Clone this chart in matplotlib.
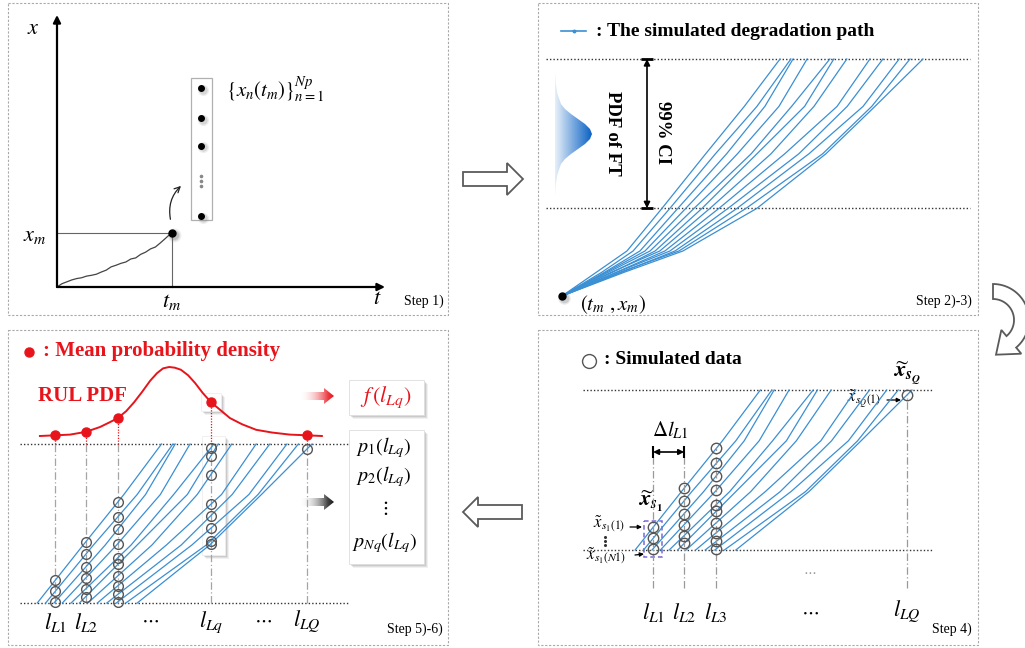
import numpy as np
import matplotlib
matplotlib.use("Agg")
import matplotlib.pyplot as plt
from matplotlib.patches import Polygon, Rectangle, FancyArrowPatch

plt.rcParams["font.family"] = ["Liberation Serif", "DejaVu Serif"]
plt.rcParams["mathtext.fontset"] = "stix"

# ---------------------------------------------------------------- data
# Step 1: measured degradation up to the current time t_m
OBS_T = [0, 0.15, 0.3, 0.45, 0.6, 0.75, 0.9, 1.05, 1.2, 1.35, 1.5, 1.65,
         1.8, 1.95, 2.1, 2.25, 2.4, 2.55, 2.7, 2.85, 3.0, 3.15, 3.3, 3.5]
OBS_X = [0, 0.12, 0.19, 0.26, 0.31, 0.34, 0.40, 0.43, 0.47, 0.55, 0.62, 0.74,
         0.80, 0.87, 0.92, 1.03, 1.07, 1.20, 1.28, 1.40, 1.47, 1.62, 1.78, 2.0]
T_M, X_M = 3.5, 2.0
PARTICLE_T = 4.4
PARTICLES = [7.3, 6.2, 5.2, 2.6]

# Steps 2)-6): simulated degradation paths (normalised time at each level)
PATH_LEVELS = [0.0, 0.10, 0.19, 0.37, 0.60, 0.80, 1.0]
PATHS = [
    [0, 0.095, 0.180, 0.277, 0.398, 0.505, 0.604],
    [0, 0.110, 0.197, 0.299, 0.425, 0.540, 0.634],
    [0, 0.118, 0.216, 0.321, 0.456, 0.562, 0.640],
    [0, 0.122, 0.230, 0.343, 0.486, 0.601, 0.679],
    [0, 0.128, 0.244, 0.366, 0.524, 0.636, 0.742],
    [0, 0.140, 0.258, 0.388, 0.540, 0.672, 0.753],
    [0, 0.136, 0.271, 0.410, 0.579, 0.698, 0.789],
    [0, 0.150, 0.285, 0.435, 0.617, 0.762, 0.853],
    [0, 0.152, 0.299, 0.460, 0.656, 0.790, 0.889],
    [0, 0.165, 0.313, 0.485, 0.684, 0.834, 0.934],
    [0, 0.160, 0.324, 0.510, 0.722, 0.858, 0.964],
    [0, 0.172, 0.335, 0.540, 0.731, 0.867, 1.000],
]
CI_LOW, FAIL = 0.37, 1.0

# RUL grid points and the mean probability density curve
L_GRID = [0.324, 0.405, 0.489, 0.734, 0.987]
RUL_T = [0.284, 0.324, 0.363, 0.405, 0.442, 0.468, 0.489, 0.511, 0.532, 0.553,
         0.574, 0.592, 0.608, 0.624, 0.639, 0.655, 0.674, 0.692, 0.713, 0.734,
         0.758, 0.784, 0.816, 0.853, 0.895, 0.942, 0.987, 1.026]
RUL_PDF = [0.0, 0.01, 0.02, 0.06, 0.13, 0.20, 0.26, 0.36, 0.49, 0.64,
           0.80, 0.91, 0.98, 1.00, 0.99, 0.96, 0.88, 0.77, 0.62, 0.49,
           0.38, 0.26, 0.17, 0.09, 0.05, 0.02, 0.01, 0.0]

# ---------------------------------------------------------------- style
BLUE = "#3b8fd3"
RED = "#e8141b"
GREY = "#555555"
W, H = 1025, 648

fig = plt.figure(figsize=(W / 100, H / 100), dpi=100)
canvas = fig.add_axes([0, 0, 1, 1])
canvas.set_autoscale_on(False)
canvas.set_xlim(0, W)
canvas.set_ylim(H, 0)
canvas.axis("off")


def data_axes(box, x0, xs, y0, ys):
    """Transparent axes over pixel box (l, t, r, b): x -> x0 + xs*x, y -> y0 - ys*y."""
    l, t, r, b = box
    ax = fig.add_axes([l / W, 1 - b / H, (r - l) / W, (b - t) / H])
    ax.set_xlim((l - x0) / xs, (r - x0) / xs)
    ax.set_ylim((y0 - b) / ys, (y0 - t) / ys)
    ax.set_autoscale_on(False)
    ax.axis("off")
    return ax


def shadow_box(l, t, r, b, edge="#dddddd"):
    for off, a in [(4, 0.10), (3, 0.14), (2, 0.2)]:
        canvas.add_patch(Rectangle((l + off, t + off), r - l, b - t, fc="#777777",
                                   ec="none", alpha=a))
    canvas.add_patch(Rectangle((l, t), r - l, b - t, fc="white", ec=edge, lw=0.6))


def gradient_fill(pts, color, x0, x1, y0, y1, light=0.0, fade_alpha=True):
    poly = Polygon(pts, closed=True, fc="none", ec="none")
    canvas.add_patch(poly)
    rgb = np.array(matplotlib.colors.to_rgb(color))
    ramp = np.linspace(light, 1, 64)
    img = np.ones((2, 64, 4))
    img[..., :3] = 1 - (1 - rgb) * ramp[None, :, None]
    img[..., 3] = np.clip(ramp * 1.2, 0, 1) if fade_alpha else 1.0
    im = canvas.imshow(img, extent=(x0, x1, y1, y0), aspect="auto", zorder=3,
                       interpolation="bilinear")
    im.set_clip_path(poly)


def gradient_arrow(x0, x1, yc, color):
    hl, sh, hh = 10, 4, 8
    pts = [(x0, yc - sh), (x1 - hl, yc - sh), (x1 - hl, yc - hh), (x1, yc),
           (x1 - hl, yc + hh), (x1 - hl, yc + sh), (x0, yc + sh)]
    gradient_fill(pts, color, x0, x1, yc - hh, yc + hh, light=0.05)


def hollow_arrow(pts):
    canvas.add_patch(Polygon(pts, closed=True, fc="white", ec="#5a5a5a", lw=1.3,
                             joinstyle="miter"))


def clipped(ts):
    lv = [CI_LOW] + [v for v in PATH_LEVELS if CI_LOW < v < FAIL] + [FAIL]
    return np.interp(lv, PATH_LEVELS, ts), lv


def crossings(l):
    out = []
    for ts in PATHS:
        if np.interp(CI_LOW, PATH_LEVELS, ts) <= l <= ts[-1]:
            out.append(np.interp(l, ts, PATH_LEVELS))
    return out


# ---------------------------------------------------------------- panel frames
P1 = (8, 3, 448, 315)
P2 = (538, 3, 978, 315)
P3 = (538, 330, 978, 645)
P4 = (8, 330, 448, 645)
for l, t, r, b in (P1, P2, P3, P4):
    canvas.add_patch(Rectangle((l, t), r - l, b - t, fill=False, ec="#a9a9a9",
                               lw=0.8, ls=(0, (2, 1.5))))

# flow arrows between steps
hollow_arrow([(463, 172), (507, 172), (507, 163), (523, 179), (507, 195),
              (507, 186), (463, 186)])
hollow_arrow([(463, 512), (478, 497), (478, 505), (522, 505), (522, 519),
              (478, 519), (478, 527)])
cx, cy, ro, ri = 993, 320, 36, 21
th = np.radians(np.linspace(90, -50, 50))
te = th[-1]
outer = [(cx + ro * np.cos(a), cy - ro * np.sin(a)) for a in th]
inner = [(cx + ri * np.cos(a), cy - ri * np.sin(a)) for a in th[::-1]]
rm = (ro + ri) / 2
mid = np.array([cx + rm * np.cos(te), cy - rm * np.sin(te)])
dirv = np.array([np.sin(te), np.cos(te)])
tip = mid + dirv * 20
head = [(cx + (ro + 8) * np.cos(te), cy - (ro + 8) * np.sin(te)), tuple(tip),
        (cx + (ri - 8) * np.cos(te), cy - (ri - 8) * np.sin(te))]
hollow_arrow(outer + head + inner)

# ---------------------------------------------------------------- Step 1)
ax1 = data_axes(P1, 57, 32.8, 287, 27.2)
akw = dict(arrowstyle="-|>", lw=1.6, color="k", mutation_scale=11, shrinkA=0, shrinkB=0)
ax1.annotate("", xy=(10, 0), xytext=(0, 0), arrowprops=akw)
ax1.annotate("", xy=(0, 10), xytext=(0, 0), arrowprops=akw)
ax1.plot([0, T_M], [X_M, X_M], color="#666", lw=0.8)
ax1.plot([T_M, T_M], [0, X_M], color="#666", lw=0.8)
ax1.plot(OBS_T, OBS_X, color="#444", lw=0.9)
for s, a in [(10, 0.12), (8, 0.18), (6.5, 0.25)]:
    ax1.plot(T_M + 0.06, X_M - 0.07, "o", ms=s, color="#777", alpha=a, mec="none")
ax1.plot(T_M, X_M, "o", ms=5, color="k")

canvas.add_patch(Rectangle((191, 78), 21, 142, fill=False, ec="#b0b0b0", lw=0.9))
for s, a in [(8, 0.12), (6, 0.2)]:
    ax1.plot([PARTICLE_T + 0.05] * len(PARTICLES), np.array(PARTICLES) - 0.06, "o",
             ms=s, color="#777", alpha=a, mec="none", ls="none")
ax1.plot([PARTICLE_T] * len(PARTICLES), PARTICLES, "o", ms=4, color="k", ls="none")
canvas.plot([200.5] * 3, [176, 181, 186], "o", ms=1.6, color="#888", ls="none")
canvas.add_patch(FancyArrowPatch((171, 222), (183, 184), arrowstyle="->",
                                 connectionstyle="arc3,rad=-0.3", lw=0.9,
                                 mutation_scale=10, color="#222"))

canvas.text(33, 30, r"$x$", fontsize=16, ha="center", va="center")
canvas.text(35, 236, r"$x_m$", fontsize=16, ha="center", va="center")
canvas.text(172, 302, r"$t_m$", fontsize=16, ha="center", va="center")
canvas.text(377, 300, r"$t$", fontsize=16, ha="center", va="center")
canvas.text(226, 90, r"$\{x_n(t_m)\}_{n=1}^{Np}$", fontsize=15, ha="left", va="center")
canvas.text(444, 301, "Step 1)", fontsize=10, ha="right", va="center")

# ---------------------------------------------------------------- Step 2)-3)
ax2 = data_axes(P2, 562, 361, 296, 237)
ax2.hlines([CI_LOW, FAIL], (546 - 562) / 361, (970 - 562) / 361, colors="#333",
           linestyles=(0, (1, 1.5)), lw=1.0)
for ts in PATHS:
    ax2.plot(ts, PATH_LEVELS, color=BLUE, lw=0.9)
for s, a in [(9, 0.15), (7, 0.25)]:
    ax2.plot(0.006, -0.008, "o", ms=s, color="#777", alpha=a, mec="none")
ax2.plot(0, 0, "o", ms=5, color="k")
x_ci = (647 - 562) / 361
ax2.annotate("", xy=(x_ci, FAIL), xytext=(x_ci, CI_LOW),
             arrowprops=dict(arrowstyle="<|-|>", color="k", lw=1.2, shrinkA=0,
                             shrinkB=0, mutation_scale=9))
ax2.hlines([CI_LOW, FAIL], x_ci - 0.016, x_ci + 0.016, colors="k", lw=2)

# distribution of the failure time
bell_dy = [-62, -50, -40, -30, -25, -20, -15, -10, -5, 0, 5, 10, 15, 20, 25, 30, 40, 50, 62]
bell_w = [0, 0.8, 2.5, 6, 10, 16, 23, 30, 35, 37, 35, 30, 23, 16, 10, 6, 2.5, 0.8, 0]
bx, by = 555, 134
bell = [(bx + w, by + d) for d, w in zip(bell_dy, bell_w)]
gradient_fill(bell, "#0b62c4", bx - 2, bx + 37, by - 62, by + 62, light=0.05,
              fade_alpha=False)

canvas.text(663, 133, "99% CI", fontsize=13.5, fontweight="bold", rotation=270,
            ha="center", va="center", rotation_mode="anchor")
canvas.text(613, 133, "PDF of FT", fontsize=13.5, fontweight="bold", rotation=270,
            ha="center", va="center", rotation_mode="anchor")
canvas.plot([561, 586], [31, 31], color=BLUE, lw=1.2)
canvas.plot(573.5, 31, "o", ms=1.8, color=BLUE)
canvas.text(596, 31, ": The simulated degradation path", fontsize=14,
            fontweight="bold", ha="left", va="center")
canvas.text(613, 305, r"$(t_m\ , x_m)$", fontsize=15, ha="center", va="center")
canvas.text(972, 301, "Step 2)-3)", fontsize=10, ha="right", va="center")

# ---------------------------------------------------------------- Step 4)
ax3 = data_axes(P3, 529, 383, 644, 254)
ax3.hlines([CI_LOW, FAIL], (583 - 529) / 383, (932 - 529) / 383, colors="#333",
           linestyles=(0, (1, 1.5)), lw=1.0)
for ts in PATHS:
    tt, lv = clipped(ts)
    ax3.plot(tt, lv, color=BLUE, lw=0.9)
lvl_bottom3 = (644 - 588) / 254
lvl_delta = (644 - 452) / 254
for i in (0, 1, 2, 4):
    l = L_GRID[i]
    hits = crossings(l)
    top = lvl_delta if i < 2 else max(hits)
    ax3.plot([l, l], [lvl_bottom3, top], color="#9a9a9a", lw=0.9, ls=(0, (6, 2, 1, 2)))
    ax3.plot([l] * len(hits), hits, "o", mfc="none", mec=GREY, mew=1, ms=7.5, ls="none")
ax3.annotate("", xy=(L_GRID[1], lvl_delta), xytext=(L_GRID[0], lvl_delta),
             arrowprops=dict(arrowstyle="<|-|>", color="k", lw=1.2, shrinkA=0,
                             shrinkB=0, mutation_scale=8))
ax3.vlines(L_GRID[:2], lvl_delta - 0.025, lvl_delta + 0.025, colors="k", lw=1.5)

canvas.add_patch(Rectangle((644, 521), 18, 36, fill=False, ec="#7b68d6", lw=1.1,
                           ls=(0, (3, 2))))
canvas.plot(589, 361, "o", ms=10, mfc="none", mec=GREY, mew=1)
canvas.text(604, 360, ": Simulated data", fontsize=14, fontweight="bold", ha="left",
            va="center")
canvas.text(670, 430, r"$\Delta l_{L1}$", fontsize=15, ha="center", va="center")
canvas.text(651, 501, r"$\widetilde{\mathbfit{x}}_{\mathbfit{s}_{\mathbf{1}}}$",
            fontsize=16, ha="center", va="center")
canvas.text(609, 524, r"$\tilde{x}_{s_1(1)}$", fontsize=12, ha="center", va="center")
canvas.text(606, 556, r"$\tilde{x}_{s_1(N1)}$", fontsize=12, ha="center", va="center")
canvas.plot([605] * 3, [537, 541, 545], "o", ms=1.2, color="#333", ls="none")
skw = dict(arrowstyle="-|>", lw=0.9, color="k", mutation_scale=6, shrinkA=0, shrinkB=0)
canvas.annotate("", xy=(642, 527), xytext=(630, 527), arrowprops=skw)
canvas.annotate("", xy=(644, 554), xytext=(635, 555), arrowprops=skw)
canvas.text(907, 373, r"$\widetilde{\mathbfit{x}}_{\mathbfit{s}_{\mathbfit{Q}}}$",
            fontsize=16, ha="center", va="center")
canvas.text(864, 399, r"$\tilde{x}_{s_Q(1)}$", fontsize=12, ha="center", va="center")
canvas.annotate("", xy=(901, 400), xytext=(887, 400), arrowprops=skw)
for i, lab in zip((0, 1, 2, 4), (r"$l_{L1}$", r"$l_{L2}$", r"$l_{L3}$", r"$l_{LQ}$")):
    ax3.text(L_GRID[i], (644 - 612) / 254, lab, fontsize=16, ha="center", va="center")
canvas.text(810, 612, r"$\cdots$", fontsize=14, ha="center", va="center")
canvas.text(810, 572, r"$\cdots$", fontsize=10, color="#999", ha="center", va="center")
canvas.text(972, 629, "Step 4)", fontsize=10, ha="right", va="center")

# ---------------------------------------------------------------- Step 5)-6)
shadow_box(202, 436, 225, 555, edge="#eeeeee")
shadow_box(201, 393, 221, 411, edge="#eeeeee")
shadow_box(349, 380, 424, 415)
shadow_box(349, 430, 424, 564)

ax4 = data_axes(P4, -68, 380, 696.4, 252.4)
ax4.hlines([CI_LOW, FAIL], (20 + 68) / 380, (349 + 68) / 380, colors="#333",
           linestyles=(0, (1, 1.5)), lw=1.0)
for l in L_GRID:
    ax4.plot([l, l], [CI_LOW, FAIL], color="#a5a5a5", lw=0.9, ls=(0, (6, 2, 1, 2)))
for ts in PATHS:
    tt, lv = clipped(ts)
    ax4.plot(tt, lv, color=BLUE, lw=0.9)
for l in L_GRID:
    hits = crossings(l)
    ax4.plot([l] * len(hits), hits, "o", mfc="none", mec=GREY, mew=1, ms=7, ls="none")

axp = data_axes(P4, -68, 380, 436, 69)
axp.plot(RUL_T, RUL_PDF, color=RED, lw=1.4)
dots = np.interp(L_GRID, RUL_T, RUL_PDF)
axp.vlines(L_GRID, -8 / 69, dots, colors=RED, linestyles=(0, (1, 1.2)), lw=0.9)
axp.plot(L_GRID, dots, "o", color=RED, ms=6.5, ls="none")

gradient_arrow(301, 334, 396, RED)
gradient_arrow(301, 334, 502, "#1a1a1a")

canvas.plot(29, 352, "o", color=RED, ms=6.5)
canvas.text(43, 351, ": Mean probability density", fontsize=15, fontweight="bold",
            color=RED, ha="left", va="center")
canvas.text(38, 396, "RUL PDF", fontsize=15, fontweight="bold", color=RED,
            ha="left", va="center")
canvas.text(386, 397, r"$f\,(l_{Lq})$", fontsize=16, color=RED, ha="center", va="center")
canvas.text(384, 448, r"$p_1(l_{Lq})$", fontsize=14.5, ha="center", va="center")
canvas.text(384, 477, r"$p_2(l_{Lq})$", fontsize=14.5, ha="center", va="center")
canvas.text(384, 508, r"$\vdots$", fontsize=14, ha="center", va="center")
canvas.text(384, 543, r"$p_{Nq}(l_{Lq})$", fontsize=14.5, ha="center", va="center")
for l, lab in zip(L_GRID, (r"$l_{L1}$", r"$l_{L2}$", None, r"$l_{Lq}$", r"$l_{LQ}$")):
    if lab:
        ax4.text(l, (696.4 - 622) / 252.4, lab, fontsize=16, ha="center", va="center")
canvas.text(150, 620, r"$\cdots$", fontsize=14, ha="center", va="center")
canvas.text(263, 620, r"$\cdots$", fontsize=14, ha="center", va="center")
canvas.text(443, 629, "Step 5)-6)", fontsize=10, ha="right", va="center")

canvas.set_xlim(0, W)
canvas.set_ylim(H, 0)
fig.savefig("out.png", dpi=100)
